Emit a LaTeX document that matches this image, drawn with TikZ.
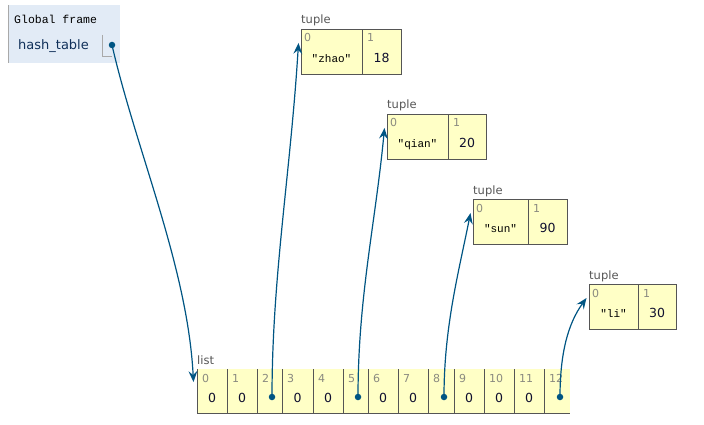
\documentclass[tikz,border=0pt]{standalone}
\usepackage{fontspec}
\setmainfont{DejaVu Sans}
\newfontfamily\ptmono{Liberation Mono}
\usetikzlibrary{arrows.meta,calc}
\definecolor{ptyellow}{HTML}{FFFFC6}
\definecolor{ptframe}{HTML}{E2EBF6}
\definecolor{ptframeline}{HTML}{A9A9A9}
\definecolor{ptborder}{HTML}{555555}
\definecolor{ptarrow}{HTML}{005583}
\definecolor{ptidx}{HTML}{8A8A80}
\definecolor{ptlabel}{HTML}{555555}
\definecolor{ptvar}{HTML}{10305A}
\definecolor{ptnum}{HTML}{101030}
\begin{document}
\begin{tikzpicture}[x=1pt,y=-1pt,
  borderline/.style={draw=ptborder, line width=0.9pt},
  lcell/.style={fill=ptyellow, inner sep=0, outer sep=0, minimum height=44pt, anchor=north west},
  tcell/.style={fill=ptyellow, draw=ptborder, line width=0.9pt, inner sep=0, outer sep=0, minimum height=45pt, anchor=north west},
  idx/.style={font=\fontsize{11}{13}\selectfont, text=ptidx, inner sep=0, anchor=base west},
  numval/.style={font=\fontsize{12.5}{14}\selectfont, text=ptnum, inner sep=0, anchor=base},
  strval/.style={font=\ptmono\fontsize{11}{13}\selectfont, text=black, inner sep=0, anchor=base},
  typelabel/.style={font=\fontsize{11.5}{13}\selectfont, text=ptlabel, inner sep=0, anchor=base west},
  ptr/.style={draw=ptarrow, line width=1.2pt, arrows={-Stealth[length=11pt,width=9pt,inset=4pt,line width=0pt]}},
  ptrdot/.style={circle, fill=ptarrow, inner sep=0, minimum size=6.5pt}
]
\useasboundingbox (0,0) rectangle (704,425);

% ---- Global frame ----
\fill[ptframe] (8,5) rectangle (120,63);
\draw[ptframeline, line width=1pt] (8,5) -- (8,63);
\node[font=\ptmono\fontsize{11.5}{13}\selectfont, inner sep=0, anchor=base west] (gf) at (14,23.5) {Global frame};
\node[font=\fontsize{13}{15}\selectfont, text=ptvar, inner sep=0, anchor=base west] (var) at (18,50) {hash\_table};
\draw[ptframeline, line width=1pt] (102,35) -- (102,57) -- (112,57);
\node[ptrdot] (d0) at (112,45) {};

% ---- list ----
\foreach \i/\l/\r in {0/197/227, 1/227/257, 2/257/282, 3/282/313, 4/313/343, 5/343/368, 6/368/398, 7/398/428, 8/428/454, 9/454/484, 10/484/514, 11/514/544, 12/544/570} {
  \node[lcell, minimum width={(\r-\l)*1pt}] (c\i) at (\l,369) {};
}
\foreach \i in {0,...,12} {
  \draw[borderline] (c\i.north west) -- (c\i.south west);
  \node[idx] (ci\i) at ($(c\i.north west)+(5,13)$) {\i};
}
\draw[borderline] (c0.south west) -- (c12.south east);
\foreach \i in {0,1,3,4,6,7,9,10,11} {
  \node[numval] (cv\i) at ($(c\i.north)+(0,33.3)$) {0};
}
\node[typelabel] (listlbl) at ($(c0.north west)+(0,-5)$) {list};

\node[ptrdot] (d2) at (272,397) {};
\node[ptrdot] (d5) at (358,397) {};
\node[ptrdot] (d8) at (444,397) {};
\node[ptrdot] (d12) at (560,397) {};

% ---- tuples ----
\node[tcell, minimum width=61pt] (t1a) at (301,29) {};
\node[tcell, minimum width=39pt] (t1b) at (362,29) {};
\node[tcell, minimum width=61pt] (t2a) at (387,114) {};
\node[tcell, minimum width=38pt] (t2b) at (448,114) {};
\node[tcell, minimum width=55pt] (t3a) at (473,199) {};
\node[tcell, minimum width=39pt] (t3b) at (528,199) {};
\node[tcell, minimum width=49pt] (t4a) at (589,284) {};
\node[tcell, minimum width=38pt] (t4b) at (638,284) {};

\foreach \t/\s/\n in {1/"zhao"/18, 2/"qian"/20, 3/"sun"/90, 4/"li"/30} {
  \node[typelabel] (tl\t) at ($(t\t a.north west)+(0,-5)$) {tuple};
  \node[idx] (ti\t a) at ($(t\t a.north west)+(3,13)$) {0};
  \node[idx] (ti\t b) at ($(t\t b.north west)+(5,13)$) {1};
  \node[strval] (ts\t) at ($(t\t a.north)+(0,33.3)$) {\s};
  \node[numval] (tn\t) at ($(t\t b.north)+(0,33.3)$) {\n};
  \coordinate (tip\t) at ($(t\t a.north west)+(-2.5,14)$);
}
\coordinate (tip0) at ($(c0.north west)+(-3.5,13)$);

% ---- pointers ----
\draw[ptr] (d0.center) .. controls +(24,105) and +(-6,-115) .. (tip0);
\draw[ptr] (d2.center) .. controls +(0,-120) and +(-8,130) .. (tip1);
\draw[ptr] (d5.center) .. controls +(0,-100) and +(-9,95) .. (tip2);
\draw[ptr] (d8.center) .. controls +(0,-70) and +(-12,60) .. (tip3);
\draw[ptr] (d12.center) .. controls +(0,-45) and +(-18,25) .. (tip4);
\end{tikzpicture}
\end{document}
